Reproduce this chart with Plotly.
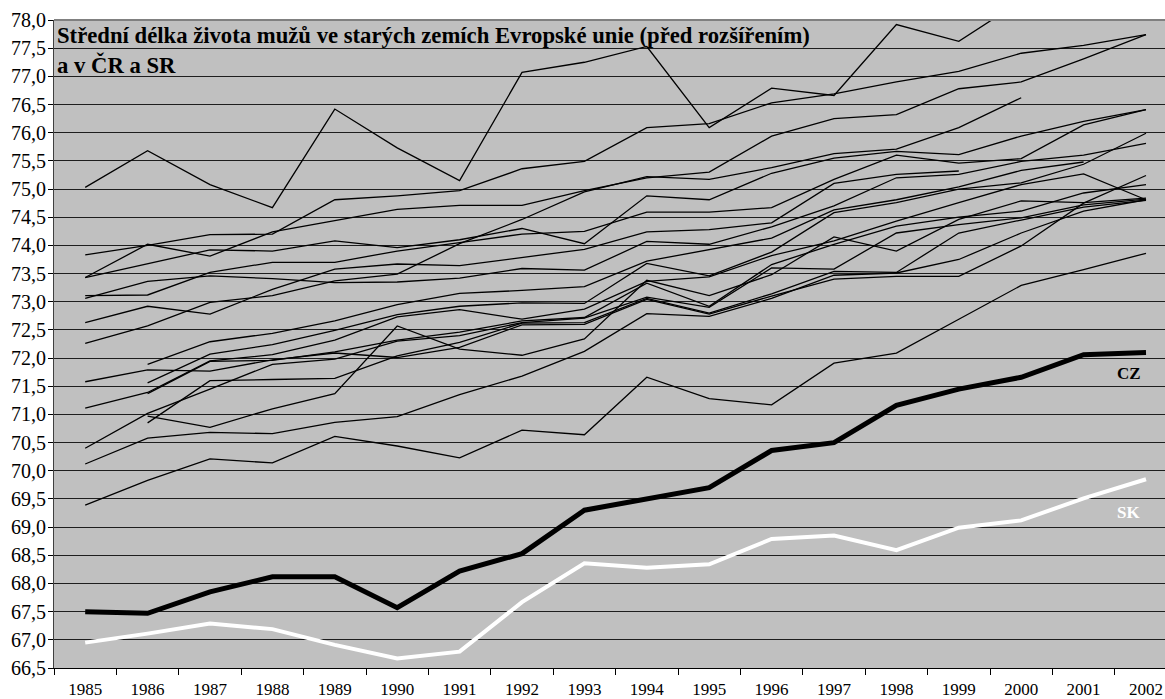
import plotly.graph_objects as go

years = list(range(1985, 2003))
year_labels = [str(y) for y in years]

# Thin lines: old EU countries (+ EEA)
line_a = [75.03, 75.68, 75.08, 74.67, 76.42, 75.73, 75.15, 77.07, 77.25, 77.53, 76.09, 76.79, 76.66, 77.92, 77.62, 78.34, 78.45, 78.60]
line_s1 = [73.83, 74.00, 74.19, 74.20, 74.81, 74.88, 74.97, 75.36, 75.49, 76.09, 76.16, 76.53, 76.69, 76.90, 77.09, 77.41, 77.55, 77.74]
line_s2 = [73.43, 74.02, 73.81, 74.24, 74.44, 74.64, 74.71, 74.71, 74.97, 75.20, 75.30, 75.94, 76.25, 76.32, 76.78, 76.90, 77.31, 77.74]
line_h = [72.26, 72.57, 72.99, 73.11, 73.37, 73.49, 74.03, 74.46, 74.95, 75.22, 75.17, 75.38, 75.63, 75.71, 76.09, 76.62, None, None]
line_d = [73.43, 73.67, 73.92, 73.90, 74.08, 73.96, 74.10, 74.30, 74.03, 74.88, 74.81, 75.28, 75.55, 75.67, 75.61, 75.94, 76.20, 76.41]
line_e = [73.11, 73.12, 73.52, 73.70, 73.70, 73.90, 74.05, 74.20, 74.25, 74.59, 74.59, 74.67, 75.17, 75.60, 75.46, 75.54, 76.14, 76.41]
line_g = [72.63, 72.92, 72.78, 73.22, 73.58, 73.67, 73.64, 73.79, 73.93, 74.24, 74.28, 74.40, 75.10, 75.26, 75.32, None, None, None]
line_f = [73.06, 73.36, 73.46, 73.41, 73.34, 73.35, 73.42, 73.59, 73.56, 74.07, 74.02, 74.33, 74.70, 75.20, 75.26, 75.49, 75.60, 75.81]
line_n = [None, 71.89, 72.29, 72.44, 72.66, 72.95, 73.15, 73.20, 73.27, 73.72, 73.93, 74.13, 74.63, 74.81, 75.04, 75.33, 75.48, None]
line_o = [None, 71.56, 72.07, 72.24, 72.49, 72.77, 72.92, 72.98, 72.97, 73.68, 73.46, 73.88, 74.58, 74.76, 75.00, 75.11, 75.44, 75.99]
line_j = [71.11, 71.39, 71.95, 72.06, 72.32, 72.73, 72.86, 72.69, 72.87, 73.36, 73.44, 73.82, 74.08, 74.43, 74.76, 75.08, 75.27, 74.81]
line_p = [None, 71.37, 71.94, 71.96, 72.11, 72.32, 72.46, 72.66, 72.72, 73.33, 72.92, 73.66, 74.02, 74.34, 74.50, 74.61, 74.93, 75.08]
line_k = [70.40, 71.02, 71.45, 71.89, 71.98, 72.30, 72.40, 72.63, 72.71, 73.08, 72.90, 73.60, 73.58, 74.22, 74.37, 74.49, 74.72, 74.82]
line_q = [None, 70.85, 71.60, 71.62, 71.64, 72.04, 72.28, 72.62, 72.63, 73.06, 72.80, 73.14, 73.54, 73.52, 74.22, 74.45, 74.68, 74.80]
line_i = [71.58, 71.79, 71.77, 71.97, 72.09, 72.01, 72.19, 72.59, 72.60, 73.04, 72.78, 73.10, 73.40, 73.45, 73.45, 73.99, 74.75, 75.24]
line_r = [None, 70.97, 70.77, 71.10, 71.37, 72.57, 72.16, 72.05, 72.34, 73.38, 73.11, 73.48, 74.15, 73.90, 74.46, 74.79, 74.76, 74.84]
line_l = [70.12, 70.58, 70.68, 70.66, 70.86, 70.96, 71.35, 71.68, 72.12, 72.79, 72.74, 73.06, 73.47, 73.51, 73.75, 74.22, 74.61, 74.81]
line_m = [69.39, 69.83, 70.21, 70.14, 70.61, 70.44, 70.23, 70.72, 70.64, 71.66, 71.28, 71.17, 71.91, 72.09, 72.69, 73.29, 73.57, 73.86]

# Czech Republic and Slovakia
cz = [67.50, 67.47, 67.85, 68.12, 68.12, 67.57, 68.22, 68.53, 69.30, 69.49, 69.70, 70.36, 70.50, 71.16, 71.45, 71.66, 72.06, 72.10]
sk = [66.95, 67.11, 67.29, 67.19, 66.91, 66.67, 66.79, 67.67, 68.36, 68.28, 68.34, 68.79, 68.85, 68.59, 68.99, 69.12, 69.51, 69.85]

thin_lines = [line_a, line_s1, line_s2, line_h, line_d, line_e, line_g, line_f,
              line_n, line_o, line_j, line_p, line_k, line_q, line_i, line_r,
              line_l, line_m]

title_text = "<b>Střední délka života mužů ve starých zemích Evropské unie (před rozšířením)<br>a v ČR a SR</b>"

fig = go.Figure()
for s in thin_lines:
    fig.add_trace(go.Scatter(x=years, y=s, mode="lines",
                             line=dict(color="black", width=1.3),
                             connectgaps=False, hoverinfo="skip",
                             showlegend=False))
fig.add_trace(go.Scatter(x=years, y=cz, mode="lines", name="CZ",
                         line=dict(color="black", width=5), showlegend=False))
fig.add_trace(go.Scatter(x=years, y=sk, mode="lines", name="SK",
                         line=dict(color="white", width=4), showlegend=False))

W, H = 1165, 699
ml, mr, mt, mb = 54, 0, 20, 31
plot_w = W - ml - mr
plot_h = H - mt - mb
px_per_year = 62.4
x_end = 1984.5 + plot_w / px_per_year

fig.update_layout(
    width=W, height=H,
    margin=dict(l=ml, r=mr, t=mt, b=mb, autoexpand=False),
    paper_bgcolor="white",
    plot_bgcolor="#C0C0C0",
    separators=", ",
    font=dict(family="Liberation Serif", color="black"),
    showlegend=False,
    hovermode=False,
    xaxis=dict(
        range=[1984.5, x_end], automargin=False,
        tickmode="array", tickvals=years, ticktext=year_labels,
        ticks="", showgrid=False, zeroline=False,
        showline=True, linecolor="black", linewidth=1,
        tickfont=dict(size=17, family="Liberation Serif"),
        ticklabelstandoff=6,
        minor=dict(tick0=1984.5, dtick=1, ticks="outside", ticklen=6,
                   tickcolor="black", tickwidth=1, showgrid=False),
    ),
    yaxis=dict(
        range=[66.5, 78.0], tick0=66.5, dtick=0.5, tickformat=".1f",
        automargin=False,
        showgrid=True, gridcolor="#1e1e1e", gridwidth=1,
        ticks="outside", ticklen=5, tickcolor="black",
        showline=True, linecolor="#404040", linewidth=1,
        zeroline=False,
        ticklabelstandoff=-2,
        tickfont=dict(size=20, family="Liberation Serif"),
    ),
    shapes=[dict(type="line", xref="paper", yref="paper", x0=0, x1=1, y0=1, y1=1,
                 line=dict(color="#808080", width=2))],
    annotations=[
        dict(text=title_text, xref="paper", yref="paper",
             x=(55 - ml) / plot_w, y=1 - (21 - mt) / plot_h,
             xanchor="left", yanchor="top", showarrow=False, align="left",
             font=dict(size=22.7, family="Liberation Serif", color="black")),
        dict(text="<b>CZ</b>", x=2001.72, y=71.73, xref="x", yref="y",
             showarrow=False, font=dict(size=17, family="Liberation Serif", color="black")),
        dict(text="<b>SK</b>", x=2001.72, y=69.26, xref="x", yref="y",
             showarrow=False, font=dict(size=17, family="Liberation Serif", color="white")),
    ],
)

fig.write_html("out.html",
               config={"displayModeBar": False, "staticPlot": True},
               post_script="document.body.style.margin='0';document.body.style.padding='0';")
